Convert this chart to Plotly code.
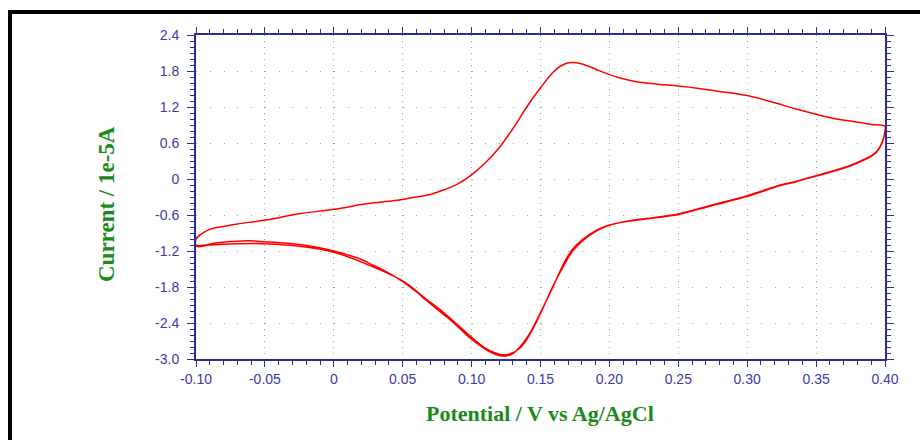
import plotly.graph_objects as go

# Cyclic voltammogram: potential (V vs Ag/AgCl) and current (1e-5 A)
# Anodic sweep, -0.10 V -> +0.40 V
potential_anodic = [-0.100, -0.097, -0.090, -0.080, -0.070, -0.050, -0.025, 0.000,
                    0.025, 0.040, 0.050, 0.060, 0.070, 0.080, 0.090, 0.100, 0.110,
                    0.120, 0.130, 0.140, 0.150, 0.160, 0.166, 0.172, 0.178, 0.185,
                    0.192, 0.200, 0.210, 0.220, 0.235, 0.250, 0.265, 0.280, 0.300,
                    0.320, 0.335, 0.350, 0.365, 0.377, 0.390, 0.400]
current_anodic = [-1.00, -0.93, -0.84, -0.79, -0.75, -0.685, -0.58, -0.505,
                  -0.41, -0.37, -0.34, -0.30, -0.26, -0.18, -0.08, 0.07, 0.27,
                  0.52, 0.84, 1.20, 1.52, 1.80, 1.90, 1.94, 1.93, 1.88,
                  1.81, 1.74, 1.67, 1.62, 1.58, 1.55, 1.51, 1.46, 1.39,
                  1.27, 1.17, 1.08, 1.00, 0.96, 0.91, 0.88]

# Cathodic sweep, first cycle, +0.40 V -> -0.10 V
potential_cathodic_1 = [0.400, 0.398, 0.394, 0.387, 0.375, 0.360, 0.350, 0.335, 0.324,
                        0.300, 0.275, 0.250, 0.232, 0.215, 0.200, 0.191, 0.180, 0.173,
                        0.167, 0.159, 0.151, 0.146, 0.142, 0.135, 0.130, 0.125, 0.120,
                        0.111, 0.100, 0.090, 0.082, 0.067, 0.061, 0.050, 0.036, 0.026,
                        0.021, 0.000, -0.022, -0.050, -0.063, -0.083, -0.100, -0.100]
current_cathodic_1 = [0.80, 0.62, 0.46, 0.35, 0.23, 0.12, 0.055, -0.04, -0.10,
                      -0.28, -0.43, -0.585, -0.645, -0.695, -0.765, -0.85, -1.02, -1.18,
                      -1.40, -1.80, -2.18, -2.41, -2.58, -2.80, -2.91, -2.95, -2.94,
                      -2.85, -2.67, -2.46, -2.30, -2.02, -1.90, -1.71, -1.52, -1.41,
                      -1.35, -1.20, -1.10, -1.045, -1.03, -1.06, -1.10, -1.00]

# Cathodic sweep, second cycle
potential_cathodic_2 = [0.400, 0.398, 0.394, 0.387, 0.375, 0.360, 0.350, 0.335, 0.324,
                        0.300, 0.275, 0.250, 0.232, 0.215, 0.200, 0.191, 0.180, 0.173,
                        0.167, 0.160, 0.150, 0.142, 0.135, 0.127, 0.120, 0.110, 0.100,
                        0.082, 0.067, 0.050, 0.026, 0.000, -0.022, -0.050, -0.070,
                        -0.090, -0.100, -0.100]
current_cathodic_2 = [0.80, 0.61, 0.45, 0.34, 0.22, 0.11, 0.05, -0.05, -0.11,
                      -0.29, -0.44, -0.59, -0.65, -0.70, -0.77, -0.86, -1.04, -1.21,
                      -1.44, -1.74, -2.24, -2.60, -2.82, -2.92, -2.92, -2.82, -2.64,
                      -2.27, -2.00, -1.70, -1.44, -1.22, -1.13, -1.08, -1.08,
                      -1.10, -1.12, -1.00]

x_tick_values = [-0.10, -0.05, 0.0, 0.05, 0.10, 0.15, 0.20, 0.25, 0.30, 0.35, 0.40]
x_tick_labels = ["-0.10", "-0.05", "0", "0.05", "0.10", "0.15", "0.20", "0.25",
                 "0.30", "0.35", "0.40"]
y_tick_values = [2.4, 1.8, 1.2, 0.6, 0.0, -0.6, -1.2, -1.8, -2.4, -3.0]
y_tick_labels = ["2.4", "1.8", "1.2", "0.6", "0", "-0.6", "-1.2", "-1.8", "-2.4", "-3.0"]

potential = (potential_anodic + potential_cathodic_1 +
             potential_anodic + potential_cathodic_2)
current = (current_anodic + current_cathodic_1 +
           current_anodic + current_cathodic_2)

W, H = 920, 440
ML, MR, MT, MB = 196, 35, 35, 81
PW, PH = W - ML - MR, H - MT - MB

AXIS = "#2d2d96"
TICKFONT = dict(family="Liberation Sans, Arial, sans-serif", size=14, color="#3a3aaa")
GRID = "#86b46a"
TITLE = "#1b8a1b"


def px_x(p):
    return (p - ML) / PW


def px_y(p):
    return (H - MB - p) / PH


fig = go.Figure()
fig.add_trace(go.Scatter(
    x=potential, y=current, mode="lines",
    line=dict(color="#ff0000", width=1.5, shape="spline", smoothing=1.0),
    hoverinfo="skip", showlegend=False,
))

axis_common = dict(
    showline=True, linecolor=AXIS, linewidth=2, mirror="ticks",
    ticks="outside", tickcolor=AXIS, tickwidth=1,
    tickfont=TICKFONT, zeroline=False, showgrid=True,
    gridcolor=GRID, gridwidth=1,
)

fig.update_xaxes(
    range=[-0.10, 0.40], tickmode="array", tickvals=x_tick_values,
    ticktext=x_tick_labels, ticklen=6, griddash="1px,5px",
    minor=dict(dtick=0.01, tick0=0, ticks="outside", ticklen=4,
               tickcolor=AXIS, showgrid=False),
    **axis_common,
)
fig.update_yaxes(
    range=[-3.0, 2.4], tickmode="array", tickvals=y_tick_values,
    ticktext=y_tick_labels, ticklen=7, griddash="1px,12.78px",
    ticklabelstandoff=5,
    minor=dict(dtick=0.1, tick0=0, ticks="outside", ticklen=4,
               tickcolor=AXIS, showgrid=False),
    **axis_common,
)

title_font = dict(family="Liberation Serif, Times New Roman, serif", size=22,
                  color=TITLE)
fig.add_annotation(text="<b>Potential / V vs Ag/AgCl</b>", xref="paper", yref="paper",
                   x=px_x(540), y=px_y(413), xanchor="center", yanchor="middle",
                   showarrow=False, font=title_font)
fig.add_annotation(text="<b>Current / 1e-5A</b>", xref="paper", yref="paper",
                   x=px_x(106), y=px_y(204), xanchor="center", yanchor="middle",
                   textangle=-90, showarrow=False,
                   font=dict(title_font, size=23))

# Frame around the figure (left and top edges)
fig.add_shape(type="rect", xref="paper", yref="paper",
              x0=px_x(8), x1=px_x(12), y0=px_y(445), y1=px_y(10),
              fillcolor="black", line=dict(width=0), layer="above")
fig.add_shape(type="rect", xref="paper", yref="paper",
              x0=px_x(8), x1=px_x(925), y0=px_y(14), y1=px_y(10),
              fillcolor="black", line=dict(width=0), layer="above")

fig.update_layout(
    width=W, height=H,
    margin=dict(l=ML, r=MR, t=MT, b=MB),
    paper_bgcolor="white", plot_bgcolor="white",
    showlegend=False,
)

fig.write_html("out.html")
